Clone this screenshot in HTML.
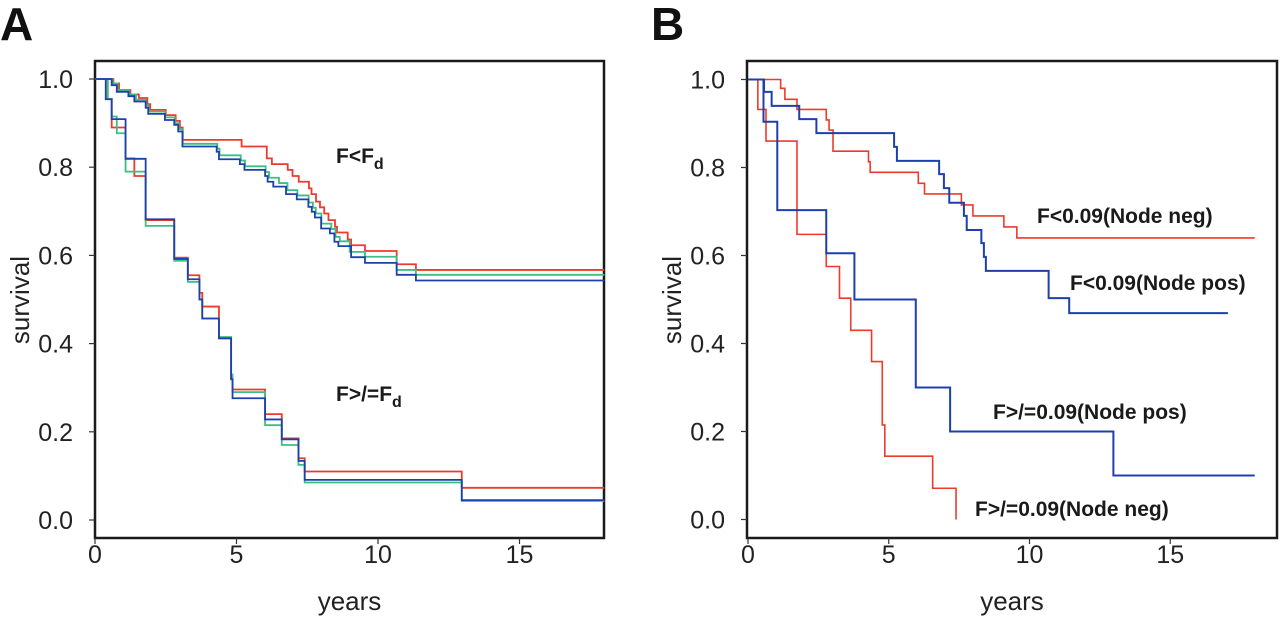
<!DOCTYPE html>
<html><head><meta charset="utf-8"><style>
html,body{margin:0;padding:0;background:#fff;}
svg{display:block;font-family:"Liberation Sans",Arial,sans-serif;}
</style></head><body>
<svg id="chart" width="1280" height="618" viewBox="0 0 1280 618" xmlns="http://www.w3.org/2000/svg"></svg>
<script>
// ---------- data ----------
const xTicks = [0, 5, 10, 15];
const yTicks = [0.0, 0.2, 0.4, 0.6, 0.8, 1.0];
const yTickLabels = ["0.0", "0.2", "0.4", "0.6", "0.8", "1.0"];

// Panel A: step times (years) and survival values
const aLowBlueT = [0, 0.38, 0.59, 1.08, 1.79, 2.8, 3.28, 3.69, 3.79, 4.38, 4.81, 4.86, 6.01, 6.6, 7.19, 7.41, 12.96, 18];
const aLowBlueV = [1, 0.954, 0.909, 0.819, 0.682, 0.592, 0.546, 0.5, 0.457, 0.412, 0.319, 0.276, 0.228, 0.183, 0.134, 0.091, 0.045, 0.045];
const aLowRedT = [0, 0.45, 0.59, 1.08, 1.39, 1.79, 2.8, 3.28, 3.69, 3.79, 4.38, 4.81, 4.86, 6.01, 6.6, 7.19, 7.41, 12.96, 18];
const aLowRedV = [1, 0.955, 0.89, 0.82, 0.78, 0.68, 0.595, 0.555, 0.515, 0.484, 0.412, 0.32, 0.296, 0.24, 0.185, 0.14, 0.11, 0.073, 0.073];
const aLowGreenT = [0, 0.45, 0.59, 0.77, 1.08, 1.79, 2.8, 3.28, 3.69, 3.79, 4.38, 4.81, 4.86, 6.01, 6.6, 7.19, 7.41, 12.96, 18];
const aLowGreenV = [1, 0.955, 0.915, 0.877, 0.79, 0.667, 0.588, 0.54, 0.5, 0.457, 0.415, 0.33, 0.29, 0.215, 0.17, 0.125, 0.085, 0.043, 0.043];

const aUpBlueT = [0, 0.59, 0.77, 1.18, 1.39, 1.79, 1.88, 2.47, 2.8, 2.94, 3.09, 4.3, 4.38, 5.12, 5.28, 6.01, 6.1, 6.3, 6.75, 7.13, 7.54, 7.66, 7.77, 7.99, 8.3, 8.46, 8.6, 9.05, 9.54, 10.66, 11.34, 18];
const aUpBlueV = [1, 0.986, 0.971, 0.961, 0.949, 0.935, 0.921, 0.907, 0.896, 0.881, 0.847, 0.835, 0.818, 0.807, 0.794, 0.78, 0.767, 0.756, 0.739, 0.727, 0.71, 0.699, 0.686, 0.661, 0.65, 0.631, 0.621, 0.596, 0.583, 0.556, 0.543, 0.543];
const aUpRedT = [0, 0.65, 0.85, 1.25, 1.55, 1.85, 1.95, 2.5, 2.85, 3.0, 3.1, 5.18, 6.07, 6.25, 6.81, 6.98, 7.2, 7.56, 7.65, 7.81, 7.95, 8.1, 8.25, 8.48, 8.55, 8.93, 9.05, 9.54, 10.66, 11.34, 18];
const aUpRedV = [1, 0.99, 0.975, 0.965, 0.957, 0.943, 0.93, 0.918, 0.905, 0.89, 0.862, 0.847, 0.82, 0.807, 0.794, 0.78, 0.767, 0.752, 0.739, 0.722, 0.709, 0.695, 0.68, 0.665, 0.652, 0.636, 0.623, 0.61, 0.58, 0.567, 0.567];
const aUpGreenT = [0, 0.62, 0.8, 1.2, 1.45, 1.8, 1.9, 2.48, 2.82, 2.96, 3.1, 4.32, 4.4, 5.15, 5.3, 6.03, 6.15, 6.5, 6.8, 7.15, 7.55, 7.7, 7.8, 8.0, 8.35, 8.5, 8.65, 9.0, 9.54, 10.66, 11.34, 18];
const aUpGreenV = [1, 0.99, 0.975, 0.965, 0.953, 0.94, 0.926, 0.913, 0.9, 0.886, 0.853, 0.842, 0.827, 0.815, 0.802, 0.789, 0.776, 0.764, 0.748, 0.736, 0.72, 0.708, 0.695, 0.672, 0.66, 0.642, 0.632, 0.608, 0.597, 0.567, 0.556, 0.556];

// Panel B
const bNegLowT = [0, 0.35, 0.64, 1.74, 2.78, 3.25, 3.65, 4.39, 4.77, 4.86, 6.56, 7.39];
const bNegLowV = [1, 0.932, 0.86, 0.648, 0.575, 0.503, 0.43, 0.359, 0.215, 0.144, 0.071, 0];
const bPosLowT = [0, 0.55, 1.04, 2.78, 3.78, 5.96, 7.18, 12.98, 18];
const bPosLowV = [1, 0.904, 0.703, 0.605, 0.5, 0.3, 0.2, 0.1, 0.1];
const bNegUpT = [0, 1.16, 1.31, 1.74, 2.78, 2.88, 3.02, 4.28, 4.34, 6.05, 6.27, 7.58, 7.99, 9.09, 9.55, 18];
const bNegUpV = [1, 0.98, 0.955, 0.932, 0.908, 0.885, 0.837, 0.813, 0.789, 0.764, 0.74, 0.715, 0.69, 0.665, 0.64, 0.64];
const bPosUpT = [0, 0.57, 0.84, 1.82, 2.43, 5.19, 5.29, 6.79, 6.96, 7.15, 7.67, 7.77, 8.29, 8.38, 8.45, 10.68, 11.41, 17.05];
const bPosUpV = [1, 0.972, 0.94, 0.91, 0.878, 0.847, 0.815, 0.785, 0.753, 0.72, 0.69, 0.658, 0.628, 0.597, 0.565, 0.503, 0.469, 0.469];

// ---------- drawing ----------
const NS = "http://www.w3.org/2000/svg";
const svg = document.getElementById("chart");
const RED = "#ee3a2c", GREEN = "#3cbf82", BLUE = "#1e40ad";

function mk(tag, attrs, parent) {
  const e = document.createElementNS(NS, tag);
  for (const k in attrs) e.setAttribute(k, attrs[k]);
  (parent || svg).appendChild(e);
  return e;
}

function panel(id, left, right, top, bottom, x0, pxPerYear, y0, pxPerUnit) {
  const g = mk("g", {});
  
  
  const sx = t => x0 + t * pxPerYear;
  const sy = v => y0 - v * pxPerUnit;
  const box = mk("rect", {x: left, y: top, width: right - left, height: bottom - top, fill: "none", stroke: "#1a1a1a", "stroke-width": 2.5}, g);
  
  
  xTicks.forEach(t => {
    const tk = mk("line", {x1: sx(t), x2: sx(t), y1: bottom, y2: bottom + 6, stroke: "#333", "stroke-width": 1.2}, g);
    
    
    const lb = mk("text", {x: sx(t), y: bottom + 25, "text-anchor": "middle", "font-size": 25, fill: "#222"}, g);
    lb.textContent = t;
    
    
  });
  yTicks.forEach((v, i) => {
    const tk = mk("line", {x1: left - 6, x2: left, y1: sy(v), y2: sy(v), stroke: "#333", "stroke-width": 1.2}, g);
    
    
    const lb = mk("text", {x: left - 22, y: sy(v) + 9, "text-anchor": "end", "font-size": 25, fill: "#222"}, g);
    lb.textContent = yTickLabels[i];
    
    
  });
  const xt = mk("text", {x: (left + right) / 2, y: 610, "text-anchor": "middle", "font-size": 26, fill: "#222"}, g);
  xt.textContent = "years";
  
  
  const cy = 300, cx = left - 66;
  const yt = mk("text", {x: cx, y: cy, "text-anchor": "middle", "font-size": 26, fill: "#222", transform: "rotate(-90 " + cx + " " + cy + ")"}, g);
  yt.textContent = "survival";
  
  
  return {g, sx, sy};
}

function steps(p, T, V, color, name, w) {
  let d = "M" + p.sx(T[0]) + "," + p.sy(V[0]);
  for (let i = 1; i < T.length; i++) {
    d += " H" + p.sx(T[i]) + " V" + p.sy(V[i]);
  }
  const path = mk("path", {d: d, fill: "none", stroke: color, "stroke-width": w || 1.8}, p.g);
  
  
}

function label(p, x, y, parts, name) {
  const t = mk("text", {x: x, y: y, "font-size": 21, "font-weight": "bold", fill: "#1a1a1a"}, p.g);
  
  
  parts.forEach(pt => {
    const s = mk("tspan", pt.sub ? {"font-size": 16, dy: 6} : {}, t);
    s.textContent = pt.s;
  });
}

// Panel A
const A = panel("a", 95, 604, 61, 538, 95, 28.3, 520, 441);
steps(A, aLowRedT, aLowRedV, RED, "curve-a-low-red");
steps(A, aLowGreenT, aLowGreenV, GREEN, "curve-a-low-green");
steps(A, aLowBlueT, aLowBlueV, BLUE, "curve-a-low-blue");
steps(A, aUpRedT, aUpRedV, RED, "curve-a-high-red");
steps(A, aUpGreenT, aUpGreenV, GREEN, "curve-a-high-green");
steps(A, aUpBlueT, aUpBlueV, BLUE, "curve-a-high-blue");
label(A, 336, 163, [{s: "F<F"}, {s: "d", sub: true}], "label-f-lt-fd");
label(A, 336, 401, [{s: "F>/=F"}, {s: "d", sub: true}], "label-f-ge-fd");

// Panel B
const B = panel("b", 747, 1277, 61, 538, 748, 28.15, 519.5, 440);
steps(B, bNegLowT, bNegLowV, RED, "curve-b-high-f-node-neg", 1.6);
steps(B, bPosLowT, bPosLowV, BLUE, "curve-b-high-f-node-pos", 2);
steps(B, bNegUpT, bNegUpV, RED, "curve-b-low-f-node-neg", 1.6);
steps(B, bPosUpT, bPosUpV, BLUE, "curve-b-low-f-node-pos", 2);
label(B, 1037, 223, [{s: "F<0.09(Node neg)"}], "label-b-low-f-node-neg");
label(B, 1070, 290, [{s: "F<0.09(Node pos)"}], "label-b-low-f-node-pos");
label(B, 993, 419, [{s: "F>/=0.09(Node pos)"}], "label-b-high-f-node-pos");
label(B, 975, 516, [{s: "F>/=0.09(Node neg)"}], "label-b-high-f-node-neg");

// Panel letters
const la = mk("text", {x: 0, y: 40, "font-size": 46, "font-weight": "bold", fill: "#111"});
la.textContent = "A";


const lbB = mk("text", {x: 651, y: 40, "font-size": 46, "font-weight": "bold", fill: "#111"});
lbB.textContent = "B";


</script>
</body></html>
